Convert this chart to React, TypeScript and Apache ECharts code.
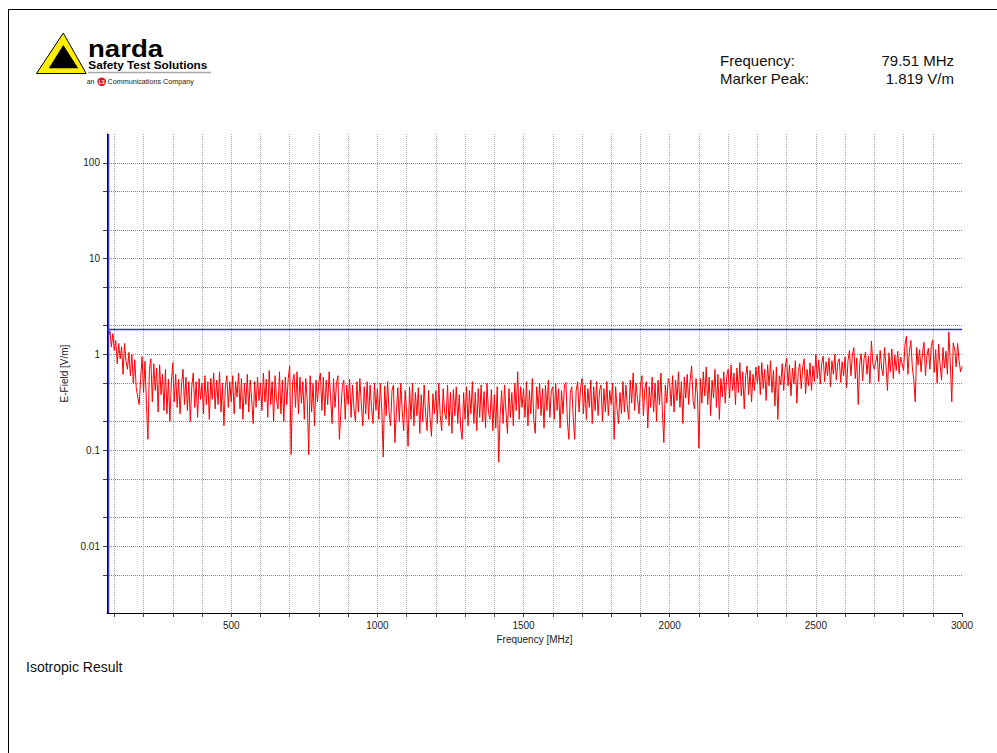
import React, { useEffect, useRef } from "react";
import * as echarts from "echarts";

const FONT = "'Liberation Sans', Arial, Helvetica, sans-serif";

const markerFrequencyMHz = 79.51;
const markerPeakVpm = 1.819;

const sweepStartMHz = 80;
const sweepStepMHz = 5;

// E-field readings (V/m) estimated from the reference trace, one per 5 MHz step from 80 MHz to 3000 MHz
const eFieldVpm = [
  // 80-95
  1.55, 1.75, 1.20, 1.65,
  // 100
  1.10, 1.40, 0.80, 1.30, 0.90, 1.20, 0.62, 1.30, 0.85, 0.70, 1.05, 0.60, 1.00, 0.50, 0.88, 0.45, 0.36, 0.30, 0.55, 0.95,
  // 200
  0.40, 0.85, 0.30, 0.13, 0.70, 0.90, 0.32, 0.80, 0.42, 0.72, 0.25, 0.78, 0.38, 0.62, 0.26, 0.70, 0.24, 0.55, 0.20, 0.50,
  // 300
  0.82, 0.32, 0.62, 0.28, 0.55, 0.24, 0.48, 0.70, 0.30, 0.58, 0.26, 0.52, 0.20, 0.46, 0.64, 0.28, 0.52, 0.22, 0.56, 0.34,
  // 400
  0.50, 0.24, 0.60, 0.30, 0.52, 0.21, 0.56, 0.34, 0.64, 0.27, 0.54, 0.30, 0.66, 0.25, 0.50, 0.18, 0.46, 0.60, 0.28, 0.52,
  // 500
  0.32, 0.60, 0.24, 0.52, 0.36, 0.64, 0.27, 0.56, 0.21, 0.50, 0.30, 0.62, 0.25, 0.54, 0.34, 0.19, 0.52, 0.28, 0.58, 0.33,
  // 600
  0.50, 0.26, 0.64, 0.32, 0.55, 0.22, 0.68, 0.30, 0.52, 0.20, 0.60, 0.34, 0.27, 0.66, 0.24, 0.54, 0.20, 0.58, 0.30, 0.56,
  // 700
  0.76, 0.09, 0.52, 0.62, 0.28, 0.66, 0.24, 0.58, 0.31, 0.52, 0.21, 0.56, 0.34, 0.09, 0.60, 0.25, 0.50, 0.18, 0.54, 0.32,
  // 800
  0.52, 0.64, 0.26, 0.58, 0.23, 0.54, 0.30, 0.66, 0.35, 0.19, 0.56, 0.28, 0.50, 0.60, 0.13, 0.25, 0.46, 0.54, 0.21, 0.48,
  // 900
  0.30, 0.55, 0.22, 0.48, 0.27, 0.20, 0.52, 0.25, 0.56, 0.31, 0.18, 0.46, 0.24, 0.52, 0.21, 0.48, 0.28, 0.19, 0.50, 0.26,
  // 1000
  0.44, 0.21, 0.50, 0.27, 0.085, 0.47, 0.23, 0.52, 0.25, 0.18, 0.42, 0.48, 0.12, 0.25, 0.45, 0.20, 0.50, 0.26, 0.16, 0.42,
  // 1100
  0.25, 0.11, 0.46, 0.21, 0.50, 0.18, 0.40, 0.23, 0.45, 0.15, 0.38, 0.20, 0.48, 0.24, 0.16, 0.42, 0.22, 0.14, 0.39, 0.24,
  // 1200
  0.42, 0.19, 0.50, 0.23, 0.16, 0.44, 0.25, 0.21, 0.48, 0.18, 0.40, 0.15, 0.43, 0.23, 0.46, 0.19, 0.38, 0.17, 0.13, 0.40,
  // 1300
  0.21, 0.46, 0.18, 0.42, 0.24, 0.52, 0.19, 0.40, 0.16, 0.44, 0.22, 0.48, 0.20, 0.41, 0.17, 0.50, 0.25, 0.21, 0.43, 0.16,
  // 1400
  0.38, 0.17, 0.46, 0.075, 0.23, 0.42, 0.19, 0.48, 0.25, 0.15, 0.44, 0.22, 0.40, 0.18, 0.50, 0.26, 0.66, 0.21, 0.46, 0.28,
  // 1500
  0.44, 0.22, 0.52, 0.18, 0.42, 0.24, 0.56, 0.21, 0.15, 0.46, 0.27, 0.50, 0.23, 0.44, 0.17, 0.48, 0.26, 0.54, 0.22, 0.42,
  // 1600
  0.46, 0.21, 0.50, 0.26, 0.44, 0.17, 0.42, 0.24, 0.48, 0.51, 0.20, 0.13, 0.40, 0.46, 0.22, 0.13, 0.42, 0.52, 0.25, 0.44,
  // 1700
  0.56, 0.24, 0.48, 0.21, 0.44, 0.28, 0.54, 0.19, 0.46, 0.26, 0.52, 0.23, 0.42, 0.48, 0.20, 0.44, 0.25, 0.52, 0.23, 0.42,
  // 1800
  0.30, 0.50, 0.13, 0.46, 0.27, 0.19, 0.40, 0.24, 0.52, 0.25, 0.48, 0.29, 0.21, 0.54, 0.31, 0.64, 0.26, 0.50, 0.34, 0.24,
  // 1900
  0.48, 0.60, 0.23, 0.44, 0.52, 0.17, 0.46, 0.28, 0.58, 0.25, 0.50, 0.20, 0.54, 0.30, 0.64, 0.25, 0.12, 0.48, 0.31, 0.56,
  // 2000
  0.50, 0.29, 0.60, 0.25, 0.54, 0.33, 0.66, 0.28, 0.52, 0.19, 0.58, 0.35, 0.62, 0.30, 0.54, 0.76, 0.33, 0.27, 0.56, 0.38,
  // 2100
  0.105, 0.56, 0.31, 0.66, 0.37, 0.74, 0.30, 0.58, 0.23, 0.54, 0.35, 0.70, 0.28, 0.62, 0.21, 0.56, 0.36, 0.66, 0.31, 0.58,
  // 2200
  0.70, 0.35, 0.78, 0.42, 0.64, 0.30, 0.72, 0.40, 0.82, 0.37, 0.66, 0.27, 0.60, 0.76, 0.38, 0.68, 0.32, 0.62, 0.42, 0.74,
  // 2300
  0.50, 0.76, 0.38, 0.82, 0.44, 0.70, 0.33, 0.78, 0.47, 0.86, 0.40, 0.68, 0.29, 0.74, 0.21, 0.60, 0.48, 0.80, 0.42, 0.72,
  // 2400
  0.92, 0.47, 0.78, 0.37, 0.72, 0.49, 0.86, 0.31, 0.68, 0.80, 0.44, 0.74, 0.90, 0.39, 0.70, 0.47, 0.82, 0.42, 0.76, 0.52,
  // 2500
  1.00, 0.56, 0.88, 0.49, 0.80, 0.96, 0.52, 0.84, 0.60, 0.92, 0.46, 0.86, 0.62, 1.00, 0.54, 0.82, 0.90, 0.51, 0.84, 0.60,
  // 2600
  0.94, 0.45, 0.86, 1.10, 0.60, 0.98, 1.18, 0.56, 0.92, 0.30, 0.80, 1.02, 0.53, 0.90, 1.06, 0.62, 0.96, 0.50, 1.38, 0.80,
  // 2700
  0.70, 0.84, 1.00, 0.52, 1.10, 0.72, 0.60, 1.18, 0.76, 0.42, 1.04, 0.66, 1.14, 0.56, 0.98, 0.68, 1.08, 0.63, 0.94, 0.80,
  // 2800
  0.68, 1.28, 1.55, 0.62, 1.08, 1.40, 0.74, 0.55, 0.32, 1.18, 0.78, 1.12, 0.66, 1.04, 1.34, 0.60, 0.98, 1.16, 0.70, 1.24,
  // 2900
  1.42, 0.65, 1.12, 0.50, 1.28, 0.78, 0.54, 1.18, 0.72, 1.08, 0.62, 1.72, 0.80, 0.32, 1.32, 1.14, 0.74, 1.30, 0.86, 0.66,
  // 3000
  0.75,
];

const xTickValues = [
  100, 200, 300, 400, 500, 600, 700, 800, 900, 1000,
  1100, 1200, 1300, 1400, 1500, 1600, 1700, 1800, 1900, 2000,
  2100, 2200, 2300, 2400, 2500, 2600, 2700, 2800, 2900, 3000,
];
const xLabelValues = [500, 1000, 1500, 2000, 2500, 3000];
const yTickValues = [0.005, 0.01, 0.02, 0.05, 0.1, 0.2, 0.5, 1, 2, 5, 10, 20, 50, 100];
const yLabelValues = [0.01, 0.1, 1, 10, 100];

const xMin = 75;
const xMax = 3000;
const yMin = 0.002;
const yMax = 200;

export default function App() {
  const ref = useRef<HTMLDivElement>(null);

  useEffect(() => {
    if (!ref.current) return;
    const chart = echarts.init(ref.current, undefined, { renderer: "svg" });

    const seriesData = eFieldVpm.map((v, i) => [sweepStartMHz + i * sweepStepMHz, v]);

    const txt = (x: number, y: number, text: string, extra: any = {}, el: any = {}) => ({
      type: "text",
      x,
      y,
      silent: true,
      ...el,
      style: {
        text,
        fontFamily: FONT,
        fontSize: 15,
        fill: "#111",
        align: "left",
        verticalAlign: "middle",
        ...extra,
      },
    });

    const option: any = {
      animation: false,
      backgroundColor: "#ffffff",
      textStyle: { fontFamily: FONT },
      grid: { left: 107, right: 35, top: 134, bottom: 140, containLabel: false },
      xAxis: {
        type: "value",
        min: xMin,
        max: xMax,
        name: "Frequency [MHz]",
        nameLocation: "middle",
        nameGap: 21,
        nameTextStyle: { fontFamily: FONT, fontSize: 10, color: "#222" },
        axisLine: { show: true, onZero: false, lineStyle: { color: "#000", width: 1 } },
        axisTick: {
          show: true,
          inside: false,
          length: 4,
          customValues: xTickValues,
          lineStyle: { color: "#444", width: 1 },
        },
        axisLabel: {
          show: true,
          customValues: xLabelValues,
          margin: 7,
          fontFamily: FONT,
          fontSize: 10,
          color: "#222",
          formatter: (v: number) => String(v),
        },
        splitLine: {
          show: true,
          showMaxLine: false,
          lineStyle: { color: "#a8a8a8", width: 1, type: [1, 1] },
        },
      },
      yAxis: {
        type: "log",
        logBase: 10,
        min: yMin,
        max: yMax,
        name: "E-Field [V/m]",
        nameLocation: "middle",
        nameRotate: 90,
        nameGap: 37,
        nameTextStyle: { fontFamily: FONT, fontSize: 10, color: "#222" },
        axisLine: { show: true, lineStyle: { color: "#000", width: 1 } },
        axisTick: {
          show: true,
          inside: false,
          length: 4,
          customValues: yTickValues,
          lineStyle: { color: "#444", width: 1 },
        },
        axisLabel: {
          show: true,
          customValues: yLabelValues,
          margin: 7,
          fontFamily: FONT,
          fontSize: 10,
          color: "#222",
          formatter: (v: number) => String(parseFloat(Number(v).toPrecision(6))),
        },
        splitLine: { show: true, lineStyle: { color: "#858585", width: 1, type: [1, 1] } },
      },
      series: [
        {
          type: "line",
          data: seriesData,
          showSymbol: false,
          symbol: "none",
          silent: true,
          lineStyle: { color: "#ff0000", width: 1 },
          itemStyle: { color: "#ff0000" },
          z: 3,
          markLine: {
            silent: true,
            symbol: ["none", "none"],
            label: { show: false },
            lineStyle: { color: "#2f2fe0", width: 1.4, type: "solid", opacity: 1 },
            emphasis: { disabled: true },
            data: [{ xAxis: markerFrequencyMHz }, { yAxis: markerPeakVpm }],
          },
        },
      ],
      graphic: [
        // page frame
        { type: "line", silent: true, shape: { x1: 8, y1: 9.5, x2: 997, y2: 9.5 }, style: { stroke: "#000", lineWidth: 1 } },
        { type: "line", silent: true, shape: { x1: 8.5, y1: 9, x2: 8.5, y2: 753 }, style: { stroke: "#000", lineWidth: 1 } },
        // logo triangle
        {
          type: "polygon",
          silent: true,
          shape: { points: [[63.3, 33], [36.5, 73.5], [86.2, 73.5]] },
          style: { fill: "#ffee00", stroke: "#000", lineWidth: 1 },
        },
        {
          type: "polygon",
          silent: true,
          shape: { points: [[63.3, 45], [48.8, 68.3], [78.2, 68.3]] },
          style: { fill: "#000" },
        },
        txt(88, 48.7, "narda", { fontSize: 23, fontWeight: "bold", fill: "#000" }, { scaleX: 1.2 }),
        txt(88.3, 65, "Safety Test Solutions", { fontSize: 11.8, fontWeight: "bold", fill: "#000" }),
        { type: "line", silent: true, shape: { x1: 88, y1: 72.5, x2: 211, y2: 72.5 }, style: { stroke: "#a8a8a8", lineWidth: 1.5 } },
        txt(86.7, 81.7, "an", { fontSize: 7, fill: "#222" }),
        { type: "circle", silent: true, shape: { cx: 101.7, cy: 81.7, r: 4.3 }, style: { fill: "#e3141d" } },
        txt(101.7, 81.9, "L3", { fontSize: 5, fontWeight: "bold", fill: "#fff", align: "center" }),
        txt(107.5, 81.7, "Communications Company", { fontSize: 7.2, fill: "#222" }),
        // header readout
        txt(720, 60.8, "Frequency:"),
        txt(954, 60.8, `${markerFrequencyMHz} MHz`, { align: "right" }),
        txt(720, 78.8, "Marker Peak:"),
        txt(954, 78.8, `${markerPeakVpm} V/m`, { align: "right" }),
        // caption
        txt(26, 666.8, "Isotropic Result", { fontSize: 14 }),
      ],
    };

    chart.setOption(option);
    return () => chart.dispose();
  }, []);

  return (
    <div
      ref={ref}
      style={{ position: "fixed", left: 0, top: 0, width: 997, height: 753, background: "#fff" }}
    />
  );
}
